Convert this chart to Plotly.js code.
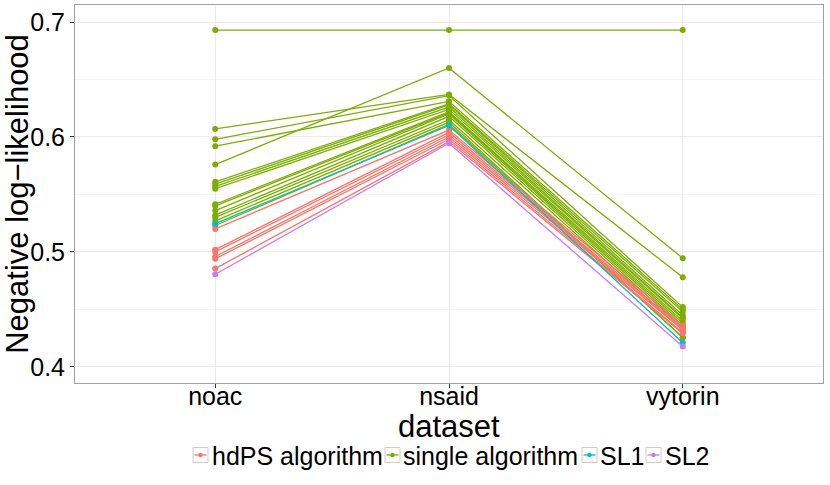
<!DOCTYPE html>
<html>
<head>
<meta charset="utf-8">
<script src="https://cdn.plot.ly/plotly-3.0.1.min.js"></script>
<style>
  body { margin: 0; background: #fff; }
  #myDiv { width: 830px; height: 485px; }
</style>
</head>
<body>
<div id="myDiv"></div>
<script>
// categories on the x axis
var datasets = ['noac', 'nsaid', 'vytorin'];

// one row per fitted algorithm: [noac, nsaid, vytorin]
var singleAlgorithm = [
  [0.693, 0.693, 0.693],
  [0.576, 0.660, 0.4945],
  [0.607, 0.637, 0.478],
  [0.598, 0.636, 0.452],
  [0.592, 0.631, 0.450],
  [0.561, 0.629, 0.448],
  [0.559, 0.628, 0.445],
  [0.557, 0.626, 0.443],
  [0.555, 0.624, 0.442],
  [0.5415, 0.622, 0.440],
  [0.540, 0.621, 0.438],
  [0.536, 0.620, 0.436],
  [0.532, 0.618, 0.434],
  [0.530, 0.615, 0.432],
  [0.527, 0.613, 0.4255],
  [0.523, 0.611, 0.4255]
];
var hdpsAlgorithm = [
  [0.520, 0.606, 0.436],
  [0.502, 0.604, 0.434],
  [0.500, 0.602, 0.433],
  [0.496, 0.600, 0.432],
  [0.494, 0.598, 0.430],
  [0.4855, 0.596, 0.429]
];
var sl1 = [[0.5246, 0.610, 0.4211]];
var sl2 = [[0.4806, 0.5945, 0.4177]];

// legend labels, in the order they are shown
var legendLabels = ['hdPS algorithm', 'single algorithm', 'SL1', 'SL2'];
var legendColors = ['#F8766D', '#7CAE00', '#00BFC4', '#C77CFF'];

var groups = [
  {name: 'single algorithm', color: '#7CAE00', rows: singleAlgorithm},
  {name: 'hdPS algorithm', color: '#F8766D', rows: hdpsAlgorithm},
  {name: 'SL1', color: '#00BFC4', rows: sl1},
  {name: 'SL2', color: '#C77CFF', rows: sl2}
];

var plotData = [];
groups.forEach(function(g) {
  g.rows.forEach(function(row) {
    plotData.push({
      x: datasets,
      y: row,
      type: 'scatter',
      mode: 'lines+markers',
      name: g.name,
      showlegend: false,
      line: {color: g.color, width: 1.3},
      marker: {color: g.color, size: 6}
    });
  });
});

//  ======== LEGEND + X TITLE (ggplot style, drawn in paper coords) ========
var W = 830, H = 485;
var mL = 75, mR = 7, mT = 5, mB = 102;
function px(x) { return (x - mL) / (W - mL - mR); }
function py(y) { return (H - mB - y) / (H - mT - mB); }

var keyLeft = [193, 385, 582, 646];
var textLeft = [211, 402, 599, 663.5];
var keySize = 15;
var legendY = 455;

var shapes = [];
var annotations = [];
legendLabels.forEach(function(lab, i) {
  var x0 = keyLeft[i], x1 = keyLeft[i] + keySize;
  var y0 = legendY - keySize / 2, y1 = legendY + keySize / 2;
  shapes.push({type: 'rect', xref: 'paper', yref: 'paper',
    x0: px(x0), x1: px(x1), y0: py(y1), y1: py(y0),
    line: {color: '#cccccc', width: 1}, fillcolor: '#ffffff'});
  shapes.push({type: 'line', xref: 'paper', yref: 'paper',
    x0: px(x0 + 1.5), x1: px(x1 - 1.5), y0: py(legendY), y1: py(legendY),
    line: {color: legendColors[i], width: 1.3}});
  shapes.push({type: 'circle', xref: 'paper', yref: 'paper',
    x0: px((x0 + x1) / 2 - 2.2), x1: px((x0 + x1) / 2 + 2.2),
    y0: py(legendY + 2.2), y1: py(legendY - 2.2),
    line: {width: 0}, fillcolor: legendColors[i]});
  annotations.push({xref: 'paper', yref: 'paper', x: px(textLeft[i]), y: py(legendY + 1),
    xanchor: 'left', yanchor: 'middle', showarrow: false, borderpad: 0,
    text: lab, font: {size: 25, color: '#000'}});
});

// x axis title sits closer to the tick labels than plotly allows
annotations.push({xref: 'paper', yref: 'paper', x: 0.5, y: py(427),
  xanchor: 'center', yanchor: 'middle', showarrow: false, borderpad: 0,
  text: 'dataset', font: {size: 31, color: '#000'}});

var fnt = 'Liberation Sans, Arial, sans-serif';

var layout = {
  width: W,
  height: H,
  margin: {l: mL, r: mR, t: mT, b: mB},
  paper_bgcolor: '#ffffff',
  plot_bgcolor: '#ffffff',
  font: {family: fnt, color: '#000'},
  showlegend: false,
  shapes: shapes,
  annotations: annotations,
  xaxis: {
    type: 'category',
    range: [-0.6, 2.6],
    showgrid: true,
    gridcolor: '#ebebeb',
    gridwidth: 1,
    zeroline: false,
    showline: true,
    mirror: true,
    linecolor: '#a0a0a0',
    linewidth: 1,
    ticks: 'outside',
    ticklen: 4,
    tickcolor: '#333333',
    ticklabelstandoff: -13,
    tickfont: {size: 25, color: '#000'}
  },
  yaxis: {
    range: [0.386, 0.7148],
    dtick: 0.1,
    tick0: 0.4,
    showgrid: true,
    gridcolor: '#ebebeb',
    gridwidth: 1,
    minor: {dtick: 0.05, tick0: 0.45, showgrid: true, gridcolor: '#f5f5f5', ticklen: 0},
    zeroline: false,
    showline: true,
    mirror: true,
    linecolor: '#a0a0a0',
    linewidth: 1,
    ticks: 'outside',
    ticklen: 4,
    tickcolor: '#333333',
    tickformat: '.1f',
    tickfont: {size: 25, color: '#000'},
    title: {text: 'Negative log\u2212likelihood', font: {size: 31}, standoff: 4}
  }
};

var config = {displayModeBar: false, responsive: false};

Plotly.newPlot('myDiv', plotData, layout, config);
</script>
</body>
</html>
